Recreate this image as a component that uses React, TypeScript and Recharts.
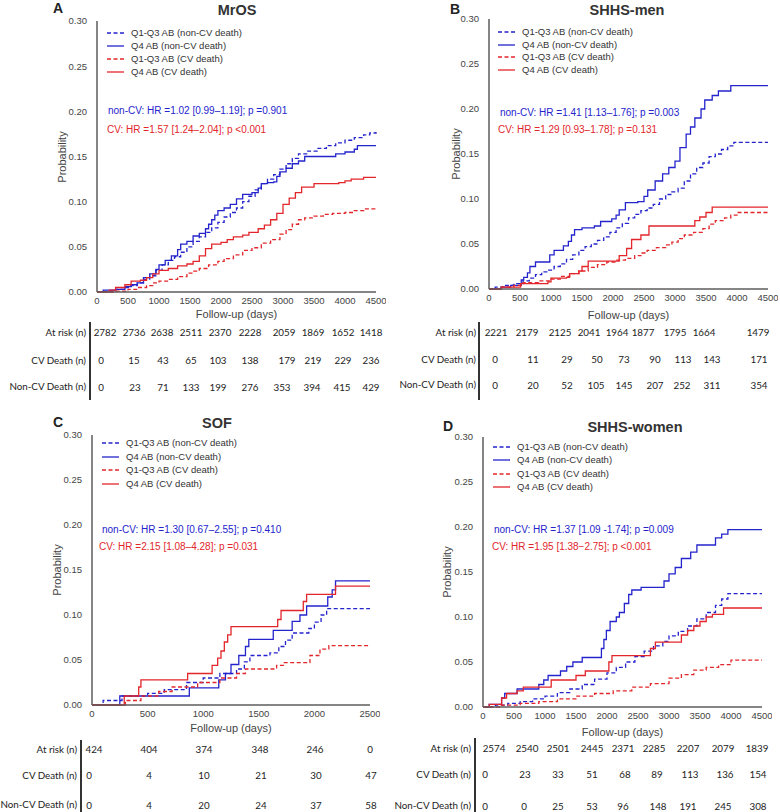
import React from 'react';
import { LineChart, Line, XAxis, YAxis } from 'recharts';

const BLUE = '#2424cc';
const RED = '#e2262b';
const AXIS = '#5c5c5c';
const FONT = '"Liberation Sans", Arial, sans-serif';
const TABLE_FONT = 'Lato, "Liberation Sans", sans-serif';

type Pt = [number, number];

const ticks4500 = [0, 500, 1000, 1500, 2000, 2500, 3000, 3500, 4000, 4500];
const ticks2500 = [0, 500, 1000, 1500, 2000, 2500];
const probTicks = [0, 0.05, 0.1, 0.15, 0.2, 0.25, 0.3];

const seriesNames = ['Q1-Q3 AB (non-CV death)', 'Q4 AB (non-CV death)', 'Q1-Q3 AB (CV death)', 'Q4 AB (CV death)'];
const rowLabels = ['At risk (n)', 'CV Death (n)', 'Non-CV Death (n)'];

// ---- MrOS ----
const mrosQ13NonCv: Pt[] = [[0, 0], [150, 0.001], [300, 0.003], [450, 0.005], [550, 0.007], [650, 0.01], [750, 0.014], [850, 0.018], [950, 0.024], [1050, 0.03], [1150, 0.035], [1250, 0.039], [1350, 0.044], [1450, 0.05], [1550, 0.056], [1650, 0.061], [1750, 0.066], [1850, 0.071], [1950, 0.077], [2050, 0.083], [2150, 0.088], [2250, 0.093], [2350, 0.1], [2450, 0.106], [2550, 0.113], [2650, 0.12], [2750, 0.125], [2850, 0.13], [2950, 0.136], [3050, 0.142], [3150, 0.148], [3250, 0.153], [3400, 0.156], [3550, 0.159], [3700, 0.162], [3850, 0.165], [4000, 0.168], [4150, 0.171], [4300, 0.174], [4400, 0.176], [4500, 0.177]];
const mrosQ4NonCv: Pt[] = [[0, 0], [100, 0.002], [300, 0.003], [450, 0.006], [550, 0.008], [650, 0.01], [750, 0.016], [850, 0.02], [950, 0.025], [1000, 0.03], [1100, 0.035], [1200, 0.04], [1300, 0.047], [1350, 0.053], [1450, 0.056], [1550, 0.062], [1650, 0.065], [1750, 0.07], [1800, 0.075], [1850, 0.08], [1900, 0.085], [1950, 0.09], [2050, 0.093], [2150, 0.097], [2250, 0.103], [2350, 0.108], [2500, 0.11], [2600, 0.115], [2650, 0.12], [2750, 0.121], [2850, 0.122], [2900, 0.128], [2950, 0.133], [3050, 0.137], [3150, 0.142], [3250, 0.145], [3350, 0.15], [3700, 0.15], [3850, 0.153], [4000, 0.155], [4150, 0.158], [4200, 0.162], [4500, 0.162]];
const mrosQ13Cv: Pt[] = [[0, 0], [300, 0.001], [500, 0.003], [650, 0.005], [800, 0.007], [900, 0.01], [1000, 0.012], [1150, 0.014], [1300, 0.017], [1450, 0.021], [1550, 0.023], [1650, 0.026], [1800, 0.03], [1950, 0.034], [2050, 0.037], [2200, 0.041], [2350, 0.046], [2500, 0.049], [2650, 0.054], [2800, 0.058], [2950, 0.064], [3050, 0.069], [3150, 0.075], [3250, 0.08], [3350, 0.082], [3500, 0.084], [3650, 0.086], [3800, 0.087], [4000, 0.088], [4150, 0.09], [4300, 0.092], [4500, 0.094]];
const mrosQ4Cv: Pt[] = [[0, 0], [200, 0.002], [300, 0.005], [450, 0.008], [550, 0.012], [700, 0.013], [800, 0.016], [900, 0.02], [1000, 0.024], [1150, 0.026], [1300, 0.029], [1450, 0.031], [1550, 0.034], [1650, 0.04], [1750, 0.048], [1850, 0.053], [2000, 0.055], [2100, 0.058], [2200, 0.061], [2350, 0.063], [2450, 0.066], [2600, 0.07], [2700, 0.074], [2800, 0.08], [2900, 0.087], [3000, 0.097], [3100, 0.104], [3200, 0.11], [3300, 0.116], [3500, 0.12], [3900, 0.121], [4000, 0.123], [4100, 0.125], [4300, 0.127], [4500, 0.127]];
const mrosHr = ['non-CV: HR =1.02 [0.99–1.19]; p =0.901', 'CV: HR =1.57 [1.24–2.04]; p <0.001'];
const mrosAtRisk = [2782, 2736, 2638, 2511, 2370, 2228, 2059, 1869, 1652, 1418];
const mrosCvDeath = [0, 15, 43, 65, 103, 138, 179, 219, 229, 236];
const mrosNonCvDeath = [0, 23, 71, 133, 199, 276, 353, 394, 415, 429];

// ---- SHHS-men ----
const menQ13NonCv: Pt[] = [[0, 0], [100, 0.002], [250, 0.004], [400, 0.006], [550, 0.009], [650, 0.012], [750, 0.016], [850, 0.019], [950, 0.021], [1050, 0.025], [1150, 0.028], [1250, 0.033], [1350, 0.038], [1450, 0.043], [1550, 0.047], [1650, 0.05], [1750, 0.054], [1850, 0.058], [1950, 0.063], [2050, 0.068], [2150, 0.073], [2250, 0.079], [2350, 0.083], [2450, 0.087], [2550, 0.09], [2650, 0.094], [2750, 0.1], [2850, 0.105], [2950, 0.108], [3050, 0.112], [3150, 0.12], [3250, 0.128], [3350, 0.135], [3450, 0.14], [3550, 0.147], [3650, 0.15], [3750, 0.155], [3850, 0.159], [3950, 0.163], [4500, 0.163]];
const menQ4NonCv: Pt[] = [[0, 0], [200, 0.002], [350, 0.004], [520, 0.01], [560, 0.013], [620, 0.018], [660, 0.025], [750, 0.03], [980, 0.038], [1050, 0.043], [1200, 0.048], [1280, 0.053], [1330, 0.06], [1380, 0.066], [1500, 0.068], [1700, 0.07], [1800, 0.075], [1980, 0.078], [2050, 0.082], [2100, 0.088], [2200, 0.096], [2400, 0.097], [2500, 0.103], [2560, 0.11], [2680, 0.12], [2800, 0.128], [2900, 0.135], [3000, 0.142], [3080, 0.157], [3180, 0.172], [3250, 0.18], [3320, 0.19], [3420, 0.2], [3480, 0.21], [3600, 0.215], [3700, 0.22], [3900, 0.226], [4500, 0.226]];
const menQ13Cv: Pt[] = [[0, 0], [200, 0.002], [400, 0.004], [550, 0.007], [800, 0.009], [1000, 0.011], [1150, 0.014], [1300, 0.017], [1450, 0.02], [1600, 0.024], [1750, 0.027], [1900, 0.03], [2050, 0.032], [2200, 0.034], [2350, 0.037], [2450, 0.04], [2550, 0.043], [2700, 0.046], [2850, 0.049], [2950, 0.052], [3050, 0.056], [3150, 0.06], [3300, 0.063], [3450, 0.067], [3550, 0.072], [3650, 0.076], [3800, 0.079], [3900, 0.082], [4000, 0.085], [4500, 0.085]];
const menQ4Cv: Pt[] = [[0, 0], [200, 0.002], [510, 0.006], [950, 0.008], [1000, 0.012], [1250, 0.013], [1300, 0.017], [1450, 0.02], [1500, 0.025], [1600, 0.031], [2100, 0.037], [2220, 0.045], [2300, 0.055], [2450, 0.06], [2580, 0.07], [3320, 0.076], [3400, 0.08], [3500, 0.085], [3600, 0.091], [4500, 0.091]];
const menHr = ['non-CV: HR =1.41 [1.13–1.76]; p =0.003', 'CV: HR =1.29 [0.93–1.78]; p =0.131'];
const menAtRisk = [2221, 2179, 2125, 2041, 1964, 1877, 1795, 1664, 1479];
const menCvDeath = [0, 11, 29, 50, 73, 90, 113, 143, 171];
const menNonCvDeath = [0, 20, 52, 105, 145, 207, 252, 311, 354];

// ---- SOF ----
const sofQ13NonCv: Pt[] = [[0, 0], [100, 0.005], [270, 0.01], [500, 0.013], [650, 0.017], [850, 0.025], [1000, 0.03], [1150, 0.035], [1300, 0.04], [1370, 0.048], [1420, 0.055], [1600, 0.058], [1680, 0.065], [1740, 0.072], [1800, 0.08], [1950, 0.085], [2000, 0.092], [2060, 0.1], [2110, 0.107], [2500, 0.107]];
const sofQ4NonCv: Pt[] = [[0, 0], [250, 0.01], [875, 0.019], [1140, 0.028], [1200, 0.035], [1250, 0.045], [1320, 0.055], [1380, 0.065], [1410, 0.073], [1630, 0.083], [1800, 0.093], [1870, 0.1], [1930, 0.11], [2120, 0.12], [2160, 0.128], [2190, 0.138], [2500, 0.138]];
const sofQ13Cv: Pt[] = [[0, 0], [300, 0.005], [440, 0.01], [600, 0.015], [720, 0.02], [950, 0.025], [1150, 0.03], [1300, 0.035], [1380, 0.04], [1660, 0.044], [1720, 0.047], [1960, 0.055], [2050, 0.062], [2130, 0.066], [2500, 0.066]];
const sofQ4Cv: Pt[] = [[0, 0], [290, 0.01], [420, 0.02], [440, 0.028], [860, 0.035], [1080, 0.044], [1130, 0.052], [1160, 0.06], [1190, 0.07], [1220, 0.078], [1250, 0.087], [1670, 0.095], [1700, 0.105], [1900, 0.115], [1930, 0.123], [2190, 0.132], [2500, 0.132]];
const sofHr = ['non-CV: HR =1.30 [0.67–2.55]; p =0.410', 'CV: HR =2.15 [1.08–4.28]; p =0.031'];
const sofAtRisk = [424, 404, 374, 348, 246, 0];
const sofCvDeath = [0, 4, 10, 21, 30, 47];
const sofNonCvDeath = [0, 4, 20, 24, 37, 58];

// ---- SHHS-women ----
const womenQ13NonCv: Pt[] = [[0, 0], [200, 0.002], [400, 0.004], [600, 0.006], [800, 0.009], [1000, 0.012], [1200, 0.016], [1400, 0.02], [1600, 0.025], [1800, 0.031], [2000, 0.038], [2150, 0.044], [2300, 0.05], [2450, 0.056], [2600, 0.062], [2750, 0.068], [2900, 0.073], [3000, 0.079], [3150, 0.084], [3300, 0.09], [3450, 0.098], [3600, 0.105], [3750, 0.113], [3850, 0.12], [3950, 0.126], [4500, 0.126]];
const womenQ4NonCv: Pt[] = [[0, 0], [100, 0.003], [300, 0.01], [350, 0.015], [550, 0.02], [900, 0.025], [980, 0.03], [1050, 0.035], [1250, 0.04], [1350, 0.045], [1450, 0.05], [1600, 0.055], [1910, 0.065], [1950, 0.075], [1990, 0.085], [2050, 0.095], [2150, 0.1], [2200, 0.105], [2280, 0.115], [2350, 0.125], [2400, 0.13], [2550, 0.133], [2920, 0.14], [3000, 0.148], [3100, 0.155], [3200, 0.165], [3350, 0.172], [3450, 0.18], [3750, 0.188], [3850, 0.192], [3950, 0.197], [4500, 0.197]];
const womenQ13Cv: Pt[] = [[0, 0], [300, 0.002], [600, 0.004], [900, 0.006], [1200, 0.009], [1500, 0.012], [1800, 0.015], [2100, 0.018], [2400, 0.022], [2700, 0.026], [3000, 0.032], [3200, 0.036], [3400, 0.041], [3600, 0.044], [3800, 0.047], [4000, 0.052], [4500, 0.052]];
const womenQ4Cv: Pt[] = [[0, 0], [100, 0.003], [300, 0.01], [380, 0.015], [550, 0.018], [650, 0.022], [1100, 0.03], [1500, 0.035], [1650, 0.04], [2030, 0.05], [2080, 0.057], [2700, 0.065], [2780, 0.072], [3200, 0.08], [3300, 0.085], [3400, 0.09], [3500, 0.095], [3600, 0.1], [3700, 0.103], [3880, 0.11], [4500, 0.11]];
const womenHr = ['non-CV: HR =1.37 [1.09 -1.74]; p =0.009', 'CV: HR =1.95 [1.38−2.75]; p <0.001'];
const womenAtRisk = [2574, 2540, 2501, 2445, 2371, 2285, 2207, 2079, 1839];
const womenCvDeath = [0, 23, 33, 51, 68, 89, 113, 136, 154];
const womenNonCvDeath = [0, 0, 25, 53, 96, 148, 191, 245, 308];

interface PanelLayout {
  x0: number; x1: number; y0: number; y1: number;
  letter: [number, number];
  title: [number, number];
  yLabelX: number;
  xLabelY: number;
  legend: { x: number; y: number; gap: number };
  hr: [number, number][];
  labelRight: number;
  bar: [number, number, number];
  rowY: number[];
  cols: number[][];
}

interface PanelProps {
  letter: string;
  title: string;
  xMax: number;
  xTicks: number[];
  series: Pt[][];
  hr: string[];
  rows: number[][];
  layout: PanelLayout;
}

const styles = [
  { color: BLUE, dash: '4 2.5' },
  { color: BLUE, dash: undefined },
  { color: RED, dash: '4 2.5' },
  { color: RED, dash: undefined },
];

const toData = (pts: Pt[]) => pts.map(([t, p]) => ({ t, p }));

const abs = (x: number, y: number, extra: React.CSSProperties = {}): React.CSSProperties => ({
  position: 'absolute', left: x, top: y, whiteSpace: 'nowrap', lineHeight: 1, ...extra,
});

const Panel = ({ letter, title, xMax, xTicks, series, hr, rows, layout: L }: PanelProps) => {
  const w = L.x1 - L.x0;
  const h = L.y1 - L.y0;
  return (
    <>
      <div style={abs(L.x0 - 50, L.y0 - 10)}>
        <LineChart width={w + 60} height={h + 30} margin={{ top: 10, right: 10, bottom: 0, left: 0 }}>
          <XAxis
            dataKey="t"
            type="number"
            domain={[0, xMax]}
            ticks={xTicks}
            height={20}
            axisLine={{ stroke: AXIS, strokeWidth: 1.5 }}
            tickLine={false}
            tickSize={0}
            tickMargin={5}
            tick={{ fill: '#444', fontSize: 9.5, fontFamily: FONT }}
          />
          <YAxis
            type="number"
            domain={[0, 0.3]}
            ticks={probTicks}
            width={50}
            axisLine={{ stroke: AXIS, strokeWidth: 1.5 }}
            tickLine={false}
            tickSize={0}
            tickMargin={10}
            tickFormatter={(v: number) => v.toFixed(2)}
            tick={{ fill: '#444', fontSize: 9.5, fontFamily: FONT }}
          />
          {series.map((pts, i) => (
            <Line
              key={i}
              data={toData(pts)}
              dataKey="p"
              type="stepAfter"
              stroke={styles[i].color}
              strokeDasharray={styles[i].dash}
              strokeWidth={1.3}
              dot={false}
              activeDot={false}
              isAnimationActive={false}
            />
          ))}
        </LineChart>
      </div>
      <svg style={{ position: 'absolute', left: 0, top: 0, pointerEvents: 'none' }} width={780} height={812}>
        <text x={L.letter[0]} y={L.letter[1]} textAnchor="middle" dominantBaseline="central" fontWeight="bold" fontSize={14} fill="#222" fontFamily={FONT}>{letter}</text>
        <text x={L.title[0]} y={L.title[1]} textAnchor="middle" dominantBaseline="central" fontWeight="bold" fontSize={14.5} fill="#333" fontFamily={FONT}>{title}</text>
      </svg>
      <div style={abs(L.yLabelX, (L.y0 + L.y1) / 2, { transform: 'translate(-50%,-50%) rotate(-90deg)', fontSize: 11, color: '#444' })}>Probability</div>
      <div style={abs((L.x0 + L.x1) / 2, L.xLabelY, { transform: 'translate(-50%,-50%)', fontSize: 11, color: '#444' })}>Follow-up (days)</div>
      {seriesNames.map((name, i) => {
        const y = L.legend.y + i * L.legend.gap;
        return (
          <React.Fragment key={name}>
            <svg style={abs(L.legend.x, y - 2)} width={17} height={4}>
              <line x1={0} y1={2} x2={17} y2={2} stroke={styles[i].color} strokeWidth={1.3} strokeDasharray={styles[i].dash} />
            </svg>
            <div style={abs(L.legend.x + 24, y, { transform: 'translateY(-50%)', fontSize: 9.5, color: '#333' })}>{name}</div>
          </React.Fragment>
        );
      })}
      {hr.map((txt, i) => (
        <div key={txt} style={abs(L.hr[i][0], L.hr[i][1], { transform: 'translateY(-50%)', fontSize: 10, color: i === 0 ? BLUE : RED })}>{txt}</div>
      ))}
      <div style={abs(L.bar[0], L.bar[1], { width: 1.5, height: L.bar[2] - L.bar[1], background: '#333' })} />
      {rowLabels.map((lab, r) => (
        <React.Fragment key={lab}>
          <div style={abs(L.labelRight, L.rowY[r], { transform: 'translate(-100%,-50%)', fontSize: 9.8, color: '#222', fontFamily: TABLE_FONT })}>{lab}</div>
          {rows[r].map((v, c) => (
            <div key={c} style={abs(L.cols[r][c], L.rowY[r] + (r === 2 ? 1 : 0), { transform: 'translate(-50%,-50%)', fontSize: 9.8, color: '#222', fontFamily: TABLE_FONT })}>{v}</div>
          ))}
        </React.Fragment>
      ))}
    </>
  );
};

const layoutA: PanelLayout = {
  x0: 97, x1: 376, y0: 21, y1: 292,
  letter: [58, 8], title: [237, 10], yLabelX: 62, xLabelY: 314,
  legend: { x: 107, y: 33, gap: 13 },
  hr: [[108, 111], [107, 130]],
  labelRight: 86, bar: [89, 322, 400], rowY: [333, 361, 387],
  cols: [
    [105, 134, 162, 191, 220, 250, 284, 313, 343, 371],
    [101, 134, 163, 191, 218, 250, 287, 313, 343, 371],
    [101, 135, 163, 191, 218, 250, 282, 312, 342, 371],
  ],
};

const layoutB: PanelLayout = {
  x0: 489, x1: 768, y0: 19, y1: 289,
  letter: [455, 9], title: [627, 10], yLabelX: 456, xLabelY: 315,
  legend: { x: 498, y: 32, gap: 12.7 },
  hr: [[500, 113], [498, 130]],
  labelRight: 476, bar: [478, 322, 400], rowY: [333, 360, 385],
  cols: [
    [496, 527, 560, 589, 617, 643, 675, 704, 758],
    [495, 533, 567, 597, 624, 655, 683, 712, 759],
    [495, 533, 567, 596, 624, 655, 682, 712, 759],
  ],
};

const layoutC: PanelLayout = {
  x0: 92, x1: 370, y0: 435, y1: 705,
  letter: [58, 422], title: [217, 423], yLabelX: 57, xLabelY: 728,
  legend: { x: 102, y: 443, gap: 13.5 },
  hr: [[102, 530], [99, 547]],
  labelRight: 77, bar: [80, 740, 812], rowY: [750, 776, 805],
  cols: [
    [94, 149, 204, 260, 315, 370],
    [89, 149, 204, 261, 316, 371],
    [89, 149, 204, 261, 316, 371],
  ],
};

const layoutD: PanelLayout = {
  x0: 483, x1: 762, y0: 437, y1: 707,
  letter: [448, 426], title: [635, 427], yLabelX: 447, xLabelY: 732,
  legend: { x: 493, y: 447, gap: 13.3 },
  hr: [[494, 530], [492, 547]],
  labelRight: 471, bar: [474, 738, 812], rowY: [749, 775, 806],
  cols: [
    [494, 527, 558, 592, 623, 654, 688, 723, 757],
    [485, 525, 558, 592, 625, 657, 690, 725, 758],
    [485, 524, 558, 592, 623, 658, 688, 723, 758],
  ],
};

export default function App() {
  return (
    <div style={{ position: 'absolute', left: 0, top: 0, width: 780, height: 812, background: '#fff', fontFamily: FONT, overflow: 'hidden' }}>
      <Panel letter="A" title="MrOS" xMax={4500} xTicks={ticks4500}
        series={[mrosQ13NonCv, mrosQ4NonCv, mrosQ13Cv, mrosQ4Cv]} hr={mrosHr}
        rows={[mrosAtRisk, mrosCvDeath, mrosNonCvDeath]} layout={layoutA} />
      <Panel letter="B" title="SHHS-men" xMax={4500} xTicks={ticks4500}
        series={[menQ13NonCv, menQ4NonCv, menQ13Cv, menQ4Cv]} hr={menHr}
        rows={[menAtRisk, menCvDeath, menNonCvDeath]} layout={layoutB} />
      <Panel letter="C" title="SOF" xMax={2500} xTicks={ticks2500}
        series={[sofQ13NonCv, sofQ4NonCv, sofQ13Cv, sofQ4Cv]} hr={sofHr}
        rows={[sofAtRisk, sofCvDeath, sofNonCvDeath]} layout={layoutC} />
      <Panel letter="D" title="SHHS-women" xMax={4500} xTicks={ticks4500}
        series={[womenQ13NonCv, womenQ4NonCv, womenQ13Cv, womenQ4Cv]} hr={womenHr}
        rows={[womenAtRisk, womenCvDeath, womenNonCvDeath]} layout={layoutD} />
    </div>
  );
}
